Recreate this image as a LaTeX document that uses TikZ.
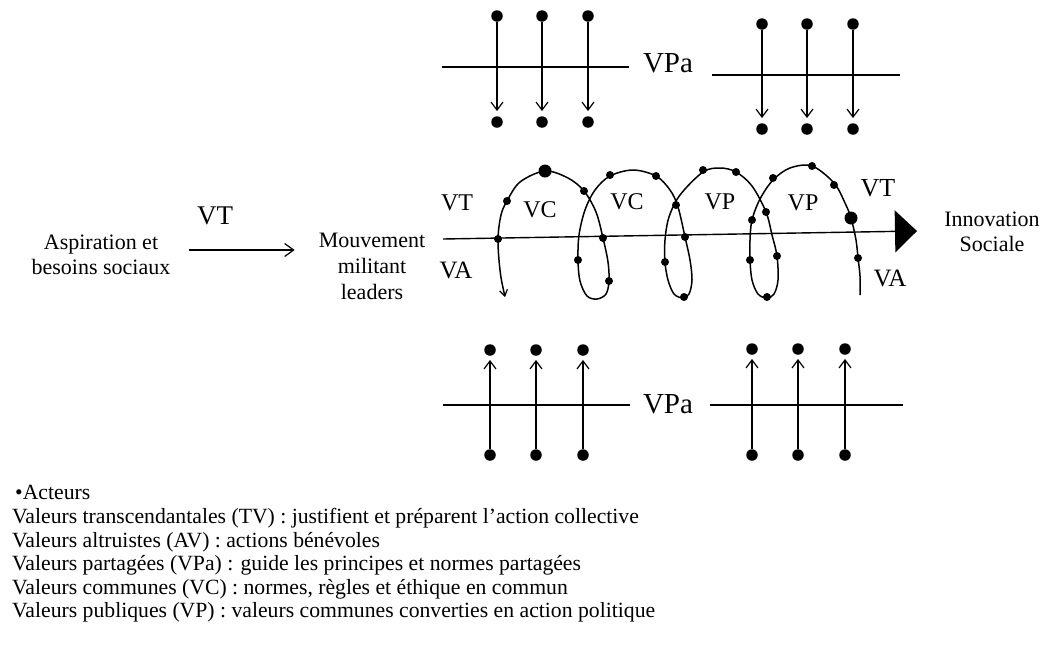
\documentclass[tikz,border=0pt]{standalone}
\usepackage{fontspec}
\setmainfont{Liberation Serif}
\usetikzlibrary{arrows.meta}
\begin{document}
\begin{tikzpicture}[x=1pt,y=-1pt,
  ln/.style={line width=1.4pt},
  dotn/.style={circle,fill=black,inner sep=0pt,minimum size=11.5pt},
  sdot/.style={circle,fill=black,inner sep=0pt,minimum size=8pt},
  ldot/.style={circle,fill=black,inner sep=0pt,minimum size=13pt},
  varr/.style={line width=1.3pt,-{Straight Barb[length=8pt,width=12pt,line width=1.2pt]}},
  lab/.style={font=\fontsize{24}{26}\selectfont,inner sep=0pt},
  biglab/.style={font=\fontsize{29}{30}\selectfont,inner sep=0pt},
  txt/.style={font=\fontsize{22}{25}\selectfont,align=center,inner sep=0pt},
  leg/.style={font=\fontsize{21.7}{24}\selectfont,anchor=base west,inner sep=0pt}]
\useasboundingbox (0,0) rectangle (1043,651);

% ---- top VPa groups
\foreach \i/\x in {1/497,2/542,3/588}{
  \node[dotn] (ta\i) at (\x,16) {};
  \node[dotn] (tb\i) at (\x,122) {};
  \draw[varr,shorten >=5pt] (ta\i) -- (tb\i);
}
\foreach \i/\x in {1/762,2/807,3/853}{
  \node[dotn] (tc\i) at (\x,24) {};
  \node[dotn] (td\i) at (\x,129) {};
  \draw[varr,shorten >=5pt] (tc\i) -- (td\i);
}
\coordinate (h1a) at (442,67); \coordinate (h1b) at (629,67);
\coordinate (h2a) at (712,75); \coordinate (h2b) at (900,75);
\draw[ln] (h1a) -- (h1b);
\draw[ln] (h2a) -- (h2b);
\node[biglab] (vpa1) at (668,63) {VPa};

% ---- bottom VPa groups
\foreach \i/\x in {1/490,2/536,3/583}{
  \node[dotn] (ba\i) at (\x,350) {};
  \node[dotn] (bb\i) at (\x,455) {};
  \draw[varr,shorten >=4pt] (bb\i) -- (ba\i);
}
\foreach \i/\x in {1/752,2/798,3/845}{
  \node[dotn] (bc\i) at (\x,349) {};
  \node[dotn] (bd\i) at (\x,455) {};
  \draw[varr,shorten >=4pt] (bd\i) -- (bc\i);
}
\coordinate (h3a) at (443,405); \coordinate (h3b) at (630,405);
\coordinate (h4a) at (710,405); \coordinate (h4b) at (903,405);
\draw[ln] (h3a) -- (h3b);
\draw[ln] (h4a) -- (h4b);
\node[biglab] (vpa2) at (668,404) {VPa};

% ---- left part
\node[txt] (asp) at (101,255) {Aspiration et\\besoins sociaux};
\node[txt,font=\fontsize{22}{26}\selectfont] (mouv) at (372,266) {Mouvement\\militant\\leaders};
\draw[line width=1.3pt,-{Straight Barb[length=9pt,width=13pt,line width=1.2pt]},shorten <=18pt,shorten >=24pt]
  ([yshift=5pt]asp.east) -- ([yshift=5pt]asp.east -| mouv.west);
\node[biglab,font=\fontsize{27}{28}\selectfont] (vt0) at (215,216) {VT};

% ---- main axis
\coordinate (axs) at (443,239);
\coordinate (axe) at (917,231);
\draw[ln,-{Triangle[length=22pt,width=42pt]}] (axs) -- (axe);

% ---- spiral
\draw[line width=1.5pt,{Straight Barb[length=6pt,width=8pt,line width=1.2pt]}-]
  plot[smooth,tension=0.55] coordinates {
  (505,297) (500,270) (498,239) (501,215) (507,201) (520,182) (545,171) (568,178)
  (584,191) (596,212) (603,238) (608,262) (609,281) (606,294) (597,299) (587,296)
  (580,281) (578,260) (579,235) (585,210) (595,190) (610,176) (633,170) (656,176)
  (670,190) (678,207) (685,237) (690,260) (692,280) (689,294) (683,298) (674,294)
  (668,280) (665,262) (665,240) (669,217) (680,195) (703,172) (720,168) (736,172)
  (752,186) (766,212) (772,235) (777,256) (778,280) (774,294) (767,298) (758,294)
  (752,280) (750,260) (750,240) (752,220) (760,199) (773,180) (790,168) (812,166)
  (834,183) (845,203) (851,218) (856,240) (858,258) (860,276) (860,295)};

\foreach \n/\p in {1/{498,239},2/{507,201},4/{584,191},5/{603,238},6/{609,281},
  7/{578,260},8/{610,175},9/{656,176},10/{676,205},11/{685,237},12/{684,297},
  13/{665,262},14/{703,170},15/{736,172},16/{766,212},17/{752,220},18/{750,260},
  19/{777,256},20/{767,297},21/{773,178},22/{812,166},23/{834,185},25/{858,258}}{
  \node[sdot] (s\n) at (\p) {};
}
\node[ldot] (s3) at (545,171) {};
\node[ldot] (s24) at (851,218) {};

% spiral labels
\node[lab] (vtl) at (457,203) {VT};
\node[lab,font=\fontsize{25}{26}\selectfont] (val) at (456,270) {VA};
\node[lab] (vc1) at (540,210) {VC};
\node[lab] (vc2) at (627,202) {VC};
\node[lab] (vp1) at (720,202) {VP};
\node[lab] (vp2) at (803,203) {VP};
\node[lab,font=\fontsize{26}{28}\selectfont] (vtr) at (878,188) {VT};
\node[lab,font=\fontsize{25}{26}\selectfont] (var) at (890,278) {VA};

\node[txt] (inno) at (992,232) {Innovation\\Sociale};

% ---- legend
\node[leg] (l0) at (15,499) {•Acteurs};
\node[leg] (l1) at (12,523) {Valeurs transcendantales (TV) : justifient et préparent l’action collective};
\node[leg] (l2) at (12,547) {Valeurs altruistes (AV) : actions bénévoles};
\node[leg] (l3) at (12,570) {Valeurs partagées (VPa) : guide les principes et normes partagées};
\node[leg] (l4) at (12,594) {Valeurs communes (VC) : normes, règles et éthique en commun};
\node[leg] (l5) at (12,617) {Valeurs publiques (VP) : valeurs communes converties en action politique};
\end{tikzpicture}
\end{document}
